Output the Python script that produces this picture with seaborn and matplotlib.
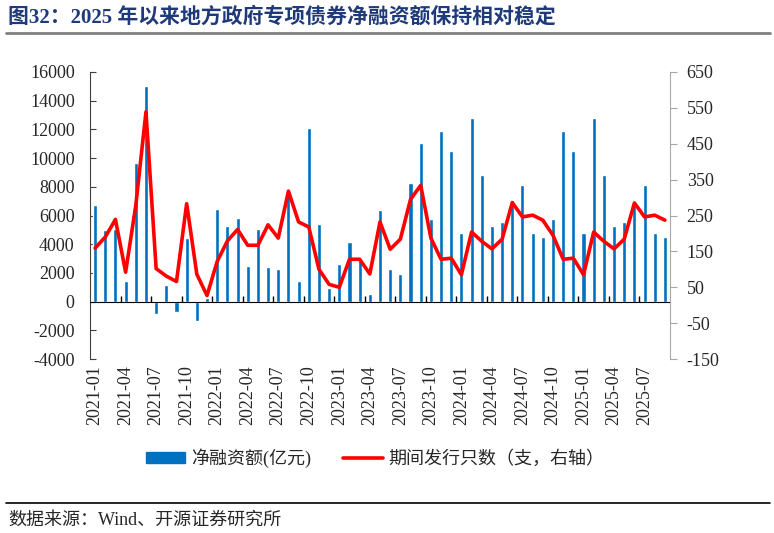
import numpy as np
import pandas as pd
import seaborn as sns
import matplotlib.pyplot as plt
from matplotlib.lines import Line2D
from matplotlib.patches import Patch

# 2021-01 ~ 2025-09 monthly
months = pd.date_range("2021-01", "2025-09", freq="MS").strftime("%Y-%m").tolist()

# 净融资额(亿元)
net_financing = [
    6710, 4960, 5030, 1470, 9670, 15030, -860, 1190, -740, 4450, -1330, 230,
    6430, 5250, 5830, 2450, 5030, 2380, 2240, 7340, 1450, 12070, 5380, 980,
    2590, 4150, 2870, 510, 6360, 2240, 1890, 8230, 11070, 5780, 11880, 10490,
    4780, 12770, 8810, 5290, 5540, 7050, 8150, 4800, 4470, 5780, 11880, 10490,
    4780, 12770, 8810, 5290, 5550, 7040, 8150, 4800, 4470,
]
# 期间发行只数（支，右轴）
issue_count = [
    159, 190, 239, 92, 278, 539, 102, 81, 66, 283, 86, 27,
    122, 179, 211, 167, 167, 224, 187, 318, 232, 218, 100, 58,
    50, 128, 128, 87, 232, 156, 184, 295, 334, 187, 128, 131,
    85, 204, 178, 157, 184, 286, 246, 251, 237, 195, 128, 131,
    85, 204, 178, 157, 184, 285, 246, 251, 237,
]

title = "图32：2025 年以来地方政府专项债券净融资额保持相对稳定"
source = "数据来源：Wind、开源证券研究所"

sns.set_style("white")
plt.rcParams['font.family'] = ['Liberation Serif', 'Noto Sans CJK SC']
plt.rcParams['axes.unicode_minus'] = False

df = pd.DataFrame({"month": months, "net": net_financing, "count": issue_count})

fig = plt.figure(figsize=(7.74, 5.33), dpi=100)
ax = fig.add_axes([90/774, 1-359/533, 580/774, 287/533])

sns.barplot(data=df, x="month", y="net", color="#0070C0", saturation=1,
            width=0.4, errorbar=None, ax=ax)
ax2 = ax.twinx()
sns.lineplot(x=np.arange(len(df)), y=df["count"], color="#FF0000", lw=2.6, ax=ax2)

# spine position first (it resets tick settings)
ax.spines['bottom'].set_position(('data', 0))
ax.spines['bottom'].set_color('black')
ax.spines['left'].set_color('#404040')
ax.spines['top'].set_visible(False)
ax.spines['right'].set_visible(False)
for s in ['top', 'left', 'bottom']:
    ax2.spines[s].set_visible(False)
ax2.spines['right'].set_color('#A6A6A6')

ax.set_xlim(-0.5, len(df) - 0.5)
ax.set_ylim(-4000, 16000)
ax.set_yticks(range(-4000, 16001, 2000))
ax2.set_ylim(-150, 650)
ax2.set_yticks(range(-150, 651, 100))
ax.set_xlabel("")
ax.set_ylabel("")
ax2.set_ylabel("")

ax.set_xticks(range(0, len(df), 3))
ax.set_xticklabels(months[::3])
ax.set_xticks(np.arange(2.5, len(df) - 1, 3), minor=True)

ax.tick_params(axis='x', which='major', length=0, pad=46, labelsize=13, labelrotation=90)
ax.tick_params(axis='x', which='minor', length=4, width=1, direction='in', color='black', bottom=True)
ax.tick_params(axis='y', direction='in', length=4, left=True, color='#404040', pad=11, labelsize=13)
ax2.tick_params(axis='y', direction='out', length=5, right=True, color='#A6A6A6', pad=7, labelsize=13)

# title and rules
fig.text(8/774, 1-17/533, title, fontsize=15, weight='bold', color='#1F3A78', va='center')
fig.add_artist(Line2D([6/774, 770/774], [1-33/533, 1-33/533], color='#808080', lw=2))
fig.add_artist(Line2D([6/774, 770/774], [1-503/533, 1-503/533], color='black', lw=1.2))
fig.text(8/774, 1-520/533, source, fontsize=13, va='center')

handles = [Patch(color="#0070C0"), Line2D([], [], color="#FF0000", lw=2.6)]
labels = ["净融资额(亿元)", "期间发行只数（支，右轴）"]
fig.legend(handles, labels, loc='center', bbox_to_anchor=(375/774, 1-458/533), ncol=2,
           frameon=False, fontsize=13, handlelength=2.2, handleheight=0.6,
           columnspacing=1.8, handletextpad=0.3)

fig.savefig("out.png", dpi=100)
